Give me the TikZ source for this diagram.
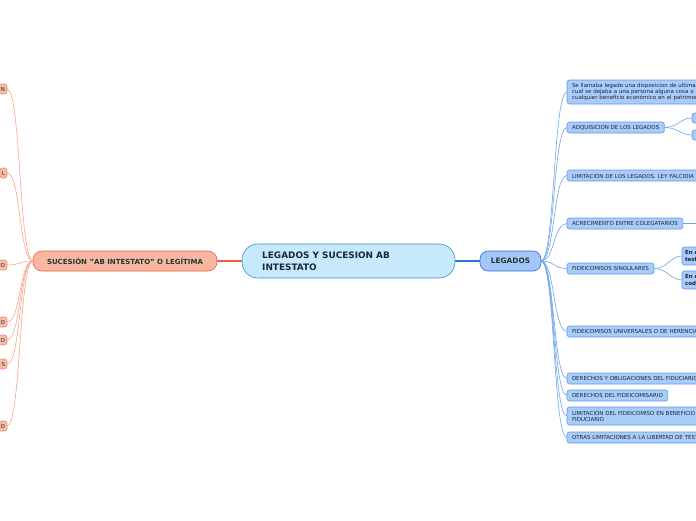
\documentclass[tikz,border=0pt]{standalone}
\usepackage{fontspec}
\setmainfont{DejaVu Sans}
\definecolor{rB}{HTML}{5B9BE8}
\definecolor{rF}{HTML}{A9CCF8}
\definecolor{rL}{HTML}{6FA6EA}
\definecolor{lB}{HTML}{F08A68}
\definecolor{lF}{HTML}{F9BCA6}
\definecolor{lL}{HTML}{F9A78C}
\definecolor{tx}{HTML}{1B2540}
\definecolor{cF}{HTML}{C6EAFB}
\definecolor{cB}{HTML}{3D8FD3}
\definecolor{gB}{HTML}{2F6FD8}
\definecolor{gF}{HTML}{A3C6F8}
\definecolor{sB}{HTML}{E8603C}
\definecolor{sF}{HTML}{F9B7A2}
\definecolor{sT}{HTML}{1E3A30}
\begin{document}
\begin{tikzpicture}[x=1pt,y=-1pt,
  base/.style={rounded corners=2.5pt, line width=0.6pt, inner sep=0pt, outer sep=0pt},
  rnode/.style={base, draw=rB, fill=rF, text=tx, font=\fontsize{5.5}{6.2}\selectfont, anchor=west, align=left, minimum height=11pt, inner xsep=5pt},
  wide/.style={text width=135pt},
  lnode/.style={base, draw=lB, fill=lF, text=tx, font=\fontsize{5.5}{6.2}\selectfont, anchor=east, minimum height=10pt, inner xsep=2pt},
  rline/.style={rL, line width=0.6pt},
  lline/.style={lL, line width=0.6pt},
  mainline/.style={line width=1.3pt}]
\useasboundingbox (0,0) rectangle (696,520);
\clip (0,0) rectangle (696,520);
\fill[white] (0,0) rectangle (696,520);

% connectors of the centre
\coordinate (cw) at (242,261);
\coordinate (ce) at (455,261);
\draw[mainline, color=sB] (cw) -- (217,261) coordinate (se);
\draw[mainline, color=gB] (ce) -- (480,261) coordinate (gw);

% central
\node[base, draw=cB, fill=cF, rounded corners=16pt, minimum width=213pt, minimum height=34pt, anchor=west] (c) at (cw) {};
\node[text=tx, font=\fontsize{8.9}{12}\selectfont\bfseries, align=left, anchor=west, inner sep=0pt] (ct) at (262,261) {LEGADOS Y SUCESION AB\\INTESTATO};

% main branches
\node[base, draw=sB, fill=sF, rounded corners=9pt, minimum width=184pt, minimum height=20pt, anchor=east, text=sT, font=\fontsize{7}{8}\selectfont\bfseries] (s) at (se) {SUCESIÓN "AB INTESTATO" O LEGÍTIMA};
\node[base, draw=gB, fill=gF, rounded corners=8pt, minimum width=61pt, minimum height=20pt, anchor=west, text=sT, font=\fontsize{7.4}{8}\selectfont\bfseries] (g) at (gw) {LEGADOS};

% right children
\node[rnode, wide, minimum height=24pt] (r1) at (567,92) {Se llamaba legado una disposicion de ultima\\cual se dejaba a una persona alguna cosa o\\cualquier beneficio económico en el patrimon};
\node[rnode] (r2) at (567,127.5) {ADQUISICION DE LOS LEGADOS};
\node[rnode, wide] (r3) at (567,175.5) {LIMITACIÓN DE LOS LEGADOS. LEY FALCIDIA};
\node[rnode] (r4) at (567,223.5) {ACRECIMIENTO ENTRE COLEGATARIOS};
\node[rnode] (r5) at (567,268.5) {FIDEICOMISOS SINGULARES};
\node[rnode, wide] (r6) at (567,331.5) {FIDEICOMISOS UNIVERSALES O DE HERENCIA};
\node[rnode, wide] (r7) at (567,378.5) {DERECHOS Y OBLIGACIONES DEL FIDUCIARIO};
\node[rnode] (r8) at (567,395.5) {DERECHOS DEL FIDEICOMISARIO};
\node[rnode, wide, minimum height=18pt] (r9) at (567,416) {LIMITACIÓN DEL FIDEICOMISO EN BENEFICIO\\FIDUCIARIO};
\node[rnode, wide] (r10) at (567,437.5) {OTRAS LIMITACIONES A LA LIBERTAD DE TESTAR};

% grandchildren
\node[rnode, minimum width=20pt, minimum height=10pt] (a1) at (692,118) {};
\node[rnode, minimum width=20pt, minimum height=10pt] (a2) at (692,135) {};
\node[rnode, minimum height=18pt, text width=30pt, font=\fontsize{5.5}{6.5}\selectfont\bfseries, inner xsep=3pt] (f1) at (682,256) {En e\\testa};
\node[rnode, minimum height=18pt, text width=30pt, font=\fontsize{5.5}{6.5}\selectfont\bfseries, inner xsep=3pt] (f2) at (682,280) {En e\\cod};
\coordinate (r4x) at (700,223.5);

\foreach \n in {r1,r2,r3,r4,r5,r6,r7,r8,r9,r10}{
  \draw[rline] (g.east) .. controls +(14,0) and +(-14,0) .. (\n.west);
}
\draw[rline] (r2.east) .. controls +(14,0) and +(-12,0) .. (a1.west);
\draw[rline] (r2.east) .. controls +(14,0) and +(-12,0) .. (a2.west);
\draw[rline] (r5.east) .. controls +(14,0) and +(-12,0) .. (f1.west);
\draw[rline] (r5.east) .. controls +(14,0) and +(-12,0) .. (f2.west);
\draw[rline] (r4.east) -- (r4x);

% left children
\node[lnode] (l1) at (7,89) {N};
\node[lnode] (l2) at (7,173) {L};
\node[lnode] (l3) at (7,265) {O};
\node[lnode] (l4) at (7,322) {O};
\node[lnode] (l5) at (7,340) {O};
\node[lnode] (l6) at (7,364) {S};
\node[lnode] (l7) at (7,426) {O};
\foreach \n in {l1,l2,l3,l4,l5,l6,l7}{
  \draw[lline] (s.west) .. controls +(-14,0) and +(14,0) .. (\n.east);
}
\end{tikzpicture}
\end{document}
